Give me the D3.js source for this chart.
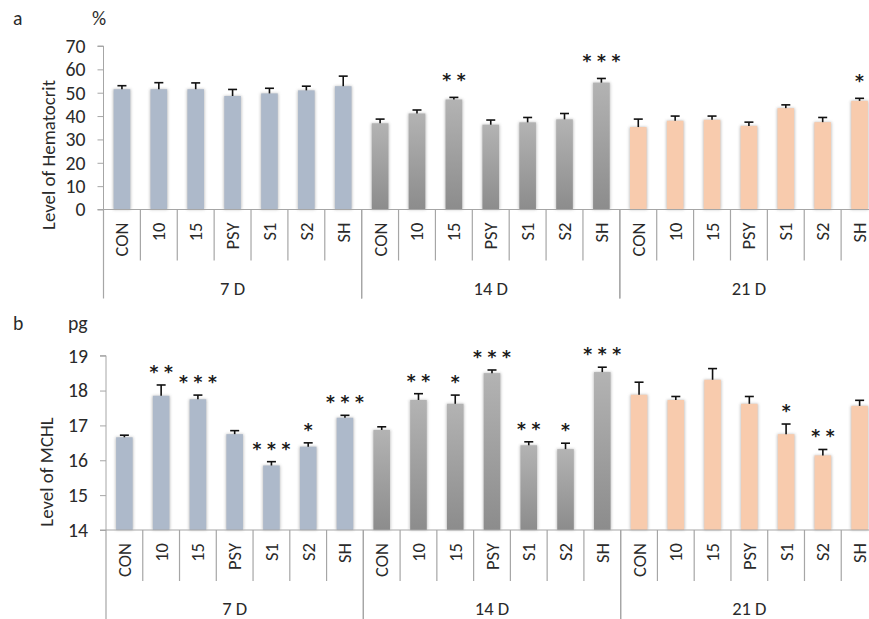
<!DOCTYPE html>
<html>
<head>
<meta charset="utf-8">
<script src="https://cdn.jsdelivr.net/npm/d3@7"></script>
<style>
  html, body { margin: 0; padding: 0; background: #fff; }
  svg { display: block; font-family: Carlito, Calibri, Lato, "Open Sans", sans-serif; }
</style>
</head>
<body>
<svg id="chart" width="869" height="619"></svg>
<script>
// Treatment groups within each sampling day
const categories = ["CON", "10", "15", "PSY", "S1", "S2", "SH"];
const days = ["7 D", "14 D", "21 D"];

// Panel a: hematocrit (%), mean and SD, ordered day by day
const hctMean = [51.5, 51.5, 51.5, 48.6, 49.7, 51.0, 52.8,
                 36.9, 41.1, 47.1, 36.3, 37.3, 38.6, 54.3,
                 35.3, 38.0, 38.4, 35.8, 43.4, 37.4, 46.5];
const hctErr  = [1.5, 2.8, 2.7, 2.8, 2.2, 1.8, 4.3,
                 1.8, 1.5, 0.9, 2.0, 2.1, 2.5, 1.8,
                 3.4, 2.0, 1.6, 1.6, 1.4, 2.0, 1.1];
const hctSig  = ["", "", "", "", "", "", "",
                 "", "", "**", "", "", "", "***",
                 "", "", "", "", "", "", "*"];
const hctTicks = [0, 10, 20, 30, 40, 50, 60, 70];

// Panel b: MCHL (pg), mean and SD
const mchlMean = [16.66, 17.85, 17.75, 16.75, 15.85, 16.39, 17.22,
                  16.87, 17.73, 17.62, 18.50, 16.43, 16.32, 18.53,
                  17.88, 17.73, 18.31, 17.62, 16.75, 16.14, 17.56];
const mchlErr  = [0.06, 0.31, 0.12, 0.10, 0.11, 0.11, 0.07,
                  0.09, 0.18, 0.25, 0.09, 0.10, 0.17, 0.14,
                  0.36, 0.10, 0.32, 0.21, 0.29, 0.17, 0.16];
const mchlSig  = ["", "**", "***", "", "***", "*", "***",
                  "", "**", "*", "***", "**", "*", "***",
                  "", "", "", "", "*", "**", ""];
const mchlTicks = [14, 15, 16, 17, 18, 19];

const svg = d3.select("#chart");
const axisColor = "#a6a6a6";
const textColor = "#2a2a2a";

// font size that gives a string the wanted rendered length
function fitSize(str, target) {
  const probe = svg.append("text").style("font-size", "20px").text(str);
  const len = probe.node().getComputedTextLength();
  probe.remove();
  return 20 * target / len;
}
const titleSize = fitSize("Level of Hematocrit", 150);
const catSize = fitSize("CON", 34);
const tickSize = fitSize("70", 20);
const daySize = fitSize("7 D", 25);

// shared defs: soft shadow and the grey gradient of the 14 D bars
const defs = svg.append("defs");
const blur = defs.append("filter").attr("id", "soft")
  .attr("x", "-50%").attr("y", "-10%").attr("width", "200%").attr("height", "120%");
blur.append("feGaussianBlur").attr("stdDeviation", 1.8);
const grad = defs.append("linearGradient").attr("id", "greyGrad")
  .attr("x1", 0).attr("y1", 0).attr("x2", 0).attr("y2", 1);
grad.append("stop").attr("offset", "0%").attr("stop-color", "#b3b3b3");
grad.append("stop").attr("offset", "100%").attr("stop-color", "#8c8c8c");
const dayFill = ["#adb9ca", "url(#greyGrad)", "#f8cbad"];

function panel(opt) {
  const g = svg.append("g");
  const keys = d3.range(opt.mean.length);
  const x = d3.scaleBand().domain(keys).range([opt.x0, opt.x1]).paddingInner(0).paddingOuter(0);
  const y = d3.scaleLinear().domain(opt.domain).range([opt.base, opt.top]);
  const bw = x.bandwidth() * 0.45;

  // value axis with outward ticks
  const yAxis = d3.axisLeft(y).tickValues(opt.ticks).tickSize(6).tickPadding(12).tickFormat(d3.format("d"));
  const ya = g.append("g").attr("transform", `translate(${opt.x0},0)`).call(yAxis);
  ya.attr("font-family", null);
  ya.select(".domain").attr("stroke", axisColor).attr("d", `M-6,${y(opt.domain[1])}H0V${opt.base}`);
  ya.selectAll(".tick line").attr("stroke", axisColor);
  ya.selectAll(".tick text").attr("fill", textColor).style("font-size", tickSize + "px");

  // bars: blurred shadow first, then the fill
  const bars = g.append("g");
  keys.forEach(i => {
    const cx = x(i) + x.bandwidth() / 2;
    const yt = y(opt.mean[i]);
    bars.append("rect").attr("x", cx - bw / 2 - 0.5).attr("y", yt).attr("width", bw + 1)
      .attr("height", opt.base - yt).attr("fill", "#8f8f8f").attr("opacity", 0.6)
      .attr("filter", "url(#soft)");
    bars.append("rect").attr("x", cx - bw / 2).attr("y", yt).attr("width", bw)
      .attr("height", opt.base - yt).attr("fill", dayFill[Math.floor(i / categories.length)]);
  });

  // category axis line
  g.append("line").attr("x1", opt.x0 - 6).attr("x2", opt.x1).attr("y1", opt.base).attr("y2", opt.base)
    .attr("stroke", axisColor).attr("stroke-width", 1.2);

  // error bars (upper half only)
  const eb = g.append("g").attr("stroke", "#111").attr("stroke-width", 1.6);
  keys.forEach(i => {
    const cx = x(i) + x.bandwidth() / 2;
    const yv = y(opt.mean[i]), ye = y(opt.mean[i] + opt.err[i]);
    eb.append("line").attr("x1", cx).attr("x2", cx).attr("y1", yv).attr("y2", ye);
    eb.append("line").attr("x1", cx - 4.5).attr("x2", cx + 4.5).attr("y1", ye).attr("y2", ye);
  });

  // significance stars above the error caps
  const st = g.append("g").attr("fill", "#1a1a1a")
    .style("font-family", "'DejaVu Sans', sans-serif").style("font-size", "17px").style("font-weight", "bold");
  keys.forEach(i => {
    const n = opt.sig[i].length;
    if (!n) return;
    const cx = x(i) + x.bandwidth() / 2;
    const yc = y(opt.mean[i] + opt.err[i]) - opt.starGap;
    d3.range(n).forEach(k => {
      st.append("text").attr("x", cx + (k - (n - 1) / 2) * 14.5).attr("y", yc + 10)
        .attr("text-anchor", "middle").text("*");
    });
  });

  // category labels and separators
  const ca = g.append("g");
  keys.forEach(i => {
    const cx = x(i) + x.bandwidth() / 2;
    ca.append("text").attr("transform", `translate(${cx},${opt.base + 13}) rotate(-90)`)
      .attr("text-anchor", "end").attr("dominant-baseline", "central")
      .attr("fill", textColor).style("font-size", catSize + "px")
      .text(categories[i % categories.length]);
    if (i > 0 && i % categories.length !== 0) {
      ca.append("line").attr("x1", x(i)).attr("x2", x(i)).attr("y1", opt.base).attr("y2", opt.base + 51)
        .attr("stroke", axisColor).attr("stroke-width", 1.2);
    }
  });
  days.forEach((d, j) => {
    const xs = x(j * categories.length);
    const xe = x((j + 1) * categories.length - 1) + x.bandwidth();
    ca.append("line").attr("x1", xs).attr("x2", xs).attr("y1", opt.base).attr("y2", opt.base + opt.groupLen)
      .attr("stroke", axisColor).attr("stroke-width", 1.2);
    ca.append("line").attr("x1", xe).attr("x2", xe).attr("y1", opt.base).attr("y2", opt.base + opt.groupLen)
      .attr("stroke", axisColor).attr("stroke-width", 1.2);
    ca.append("text").attr("x", (xs + xe) / 2).attr("y", opt.base + 85)
      .attr("text-anchor", "middle").attr("fill", textColor).style("font-size", daySize + "px").text(d);
  });

  // titles
  g.append("text").attr("transform", `translate(${opt.titleX},${opt.titleY}) rotate(-90)`)
    .attr("text-anchor", "middle").attr("dominant-baseline", "central")
    .attr("fill", textColor).style("font-size", titleSize + "px").text(opt.title);
  g.append("text").attr("x", 13).attr("y", opt.letterY).attr("fill", textColor)
    .style("font-size", tickSize + "px").text(opt.letter);
  g.append("text").attr("x", opt.unitX).attr("y", opt.letterY).attr("fill", textColor)
    .style("font-size", tickSize + "px").text(opt.unit);
}

panel({
  mean: hctMean, err: hctErr, sig: hctSig, ticks: hctTicks, domain: [0, 70],
  x0: 103.5, x1: 878, base: 209.5, top: 46, groupLen: 89, starGap: 21,
  title: "Level of Hematocrit", titleX: 48, titleY: 155,
  letter: "a", unit: "%", unitX: 92, letterY: 25
});

panel({
  mean: mchlMean, err: mchlErr, sig: mchlSig, ticks: mchlTicks, domain: [14, 19],
  x0: 106, x1: 878, base: 530, top: 355.7, groupLen: 100, starGap: 17,
  title: "Level of MCHL", titleX: 46, titleY: 472,
  letter: "b", unit: "pg", unitX: 68, letterY: 330
});
</script>
</body>
</html>
